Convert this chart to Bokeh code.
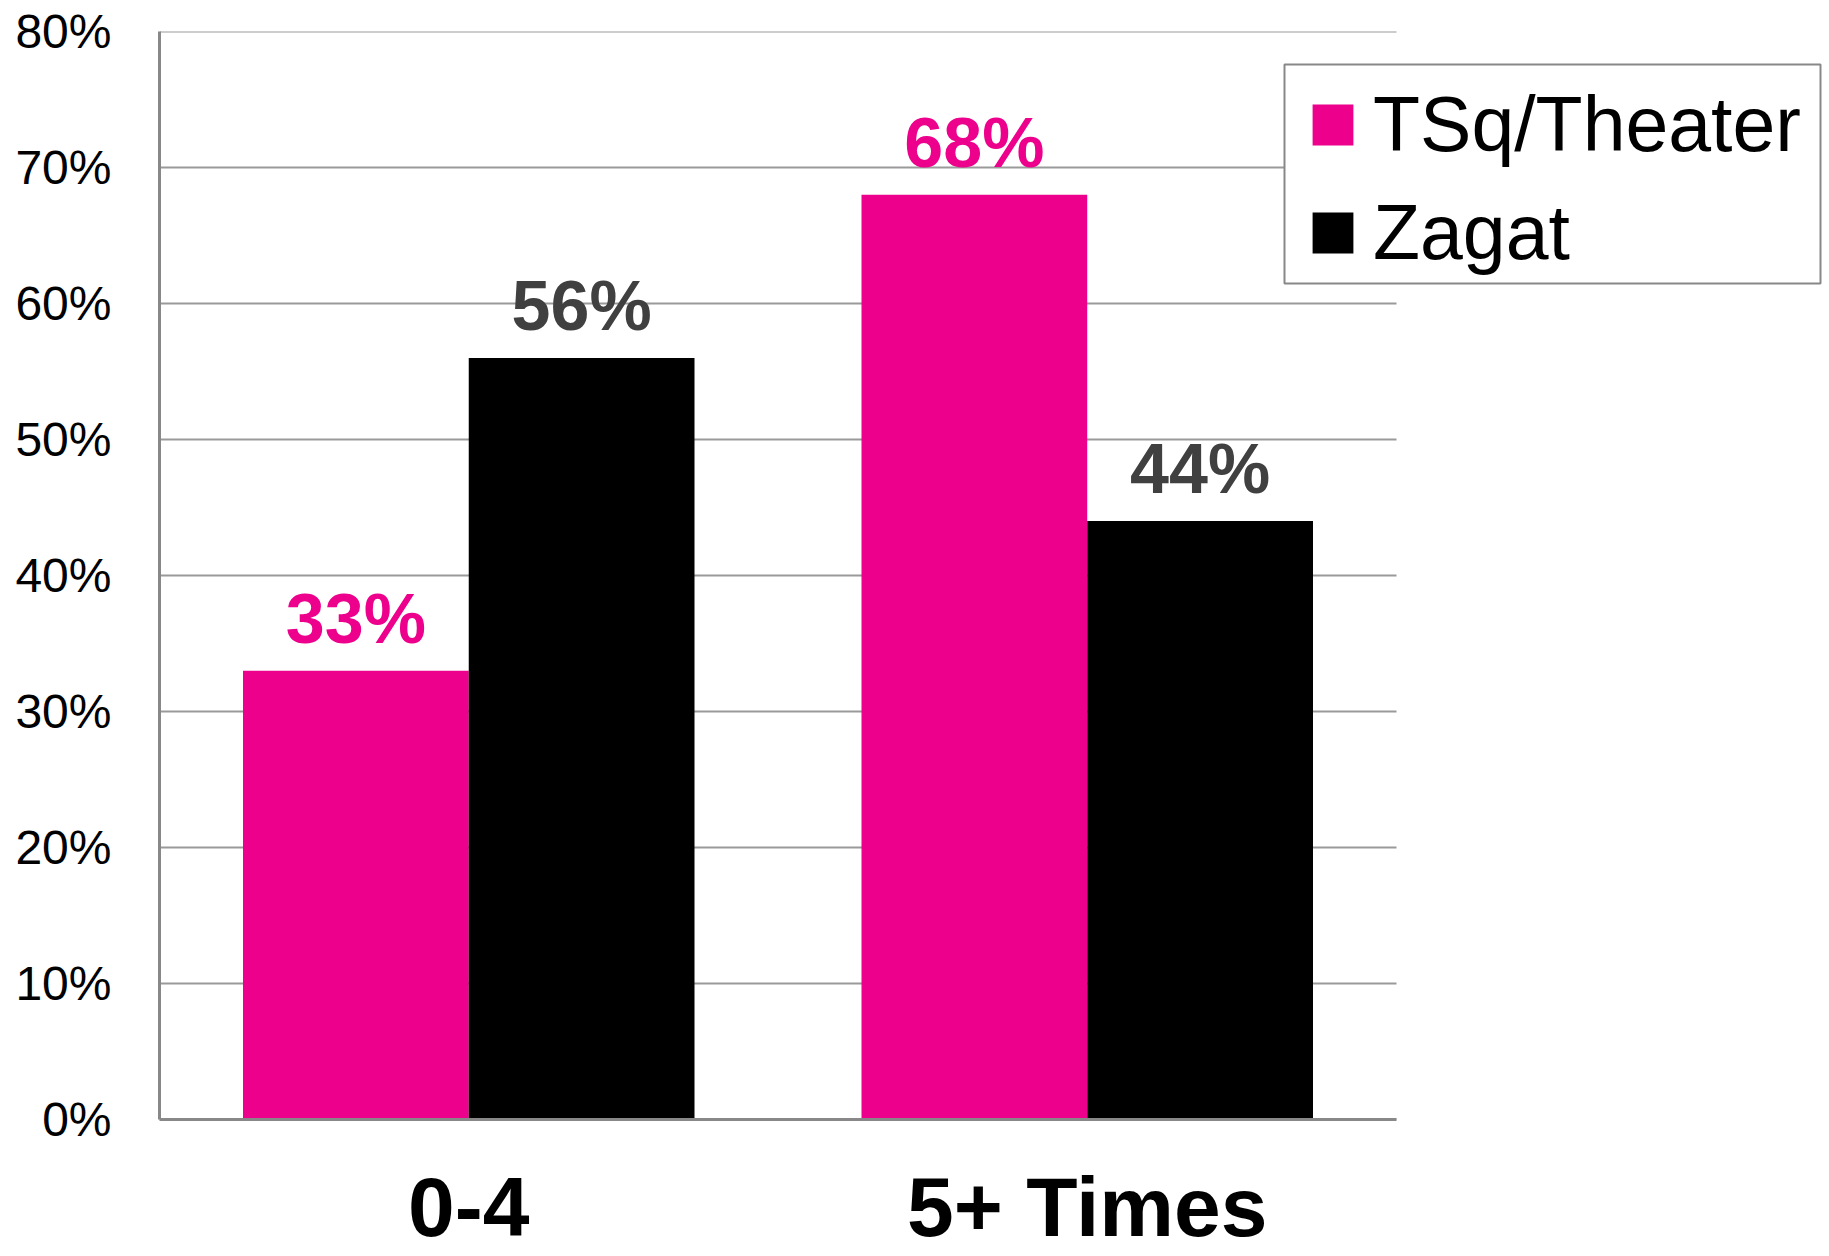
from bokeh.plotting import figure
from bokeh.models import (ColumnDataSource, NumeralTickFormatter, Legend, LegendItem,
                          FixedTicker, Range1d, BoxAnnotation)
from bokeh.core.properties import value
from bokeh.embed import file_html
from bokeh.resources import INLINE

categories = ["0-4", "5+ Times"]
series_names = ["TSq/Theater", "Zagat"]
tsq_values = [0.33, 0.68]
zagat_values = [0.56, 0.44]
tsq_labels = ["33%", "68%"]
zagat_labels = ["56%", "44%"]
y_ticks = [0, 0.1, 0.2, 0.3, 0.4, 0.5, 0.6, 0.7, 0.8]

PINK = "#EC008C"
BLACK = "#000000"
GREY_LABEL = "#404040"

n = len(categories)
centers = [i + 0.5 for i in range(n)]
BW = 0.365
OFF = 0.1825

src = ColumnDataSource(dict(
    xc=centers,
    x_tsq=[c - OFF for c in centers],
    x_zag=[c + OFF for c in centers],
    tsq=tsq_values, zagat=zagat_values,
    tsq_lab=tsq_labels, zagat_lab=zagat_labels))

W, H = 1826, 1256
LEFT, TOP, BOTTOM = 159, 31, 137
frame_w = W - LEFT
cat_px = 618.5
x_end = frame_w / cat_px

p = figure(x_range=Range1d(0, x_end), y_range=Range1d(0, 0.8), width=W, height=H,
           output_backend="svg", toolbar_location=None,
           min_border_left=LEFT, min_border_right=0, min_border_top=TOP,
           min_border_bottom=BOTTOM)
p.outline_line_color = None
p.background_fill_color = "white"
p.border_fill_color = "white"
p.xgrid.grid_line_color = None
p.ygrid.grid_line_color = None

# gridlines across the category area only
p.segment(x0=[0] * len(y_ticks), x1=[n] * len(y_ticks), y0=y_ticks, y1=y_ticks,
          line_color="#9a9a9a", line_width=2, level="underlay")

r1 = p.vbar(x="x_tsq", top="tsq", width=BW, source=src, fill_color=PINK, line_color=None)
r2 = p.vbar(x="x_zag", top="zagat", width=BW, source=src, fill_color=BLACK, line_color=None)

p.text(x="x_tsq", y="tsq", text="tsq_lab", source=src,
       text_color=PINK, text_font=value("Liberation Sans"), text_font_style="bold",
       text_font_size="70px", text_align="center", text_baseline="alphabetic", y_offset=-52)
p.text(x="x_zag", y="zagat", text="zagat_lab", source=src,
       text_color=GREY_LABEL, text_font=value("Liberation Sans"), text_font_style="bold",
       text_font_size="70px", text_align="center", text_baseline="alphabetic", y_offset=-52)

# y axis
p.yaxis.ticker = FixedTicker(ticks=y_ticks)
p.yaxis.formatter = NumeralTickFormatter(format="0%")
p.yaxis.major_label_text_font = "Liberation Sans"
p.yaxis.major_label_text_font_size = "48px"
p.yaxis.major_label_text_color = "black"
p.yaxis.major_label_standoff = 48
p.yaxis.major_tick_out = 0
p.yaxis.major_tick_in = 0
p.yaxis.minor_tick_out = 0
p.yaxis.minor_tick_in = 0
p.yaxis.axis_line_color = "#888888"
p.yaxis.axis_line_width = 3

# x axis (category labels)
p.xaxis.ticker = FixedTicker(ticks=centers)
p.xaxis.major_label_overrides = {c: lab for c, lab in zip(centers, categories)}
p.xaxis.bounds = (0, n)
p.xaxis.major_label_text_font = "Liberation Sans"
p.xaxis.major_label_text_font_style = "bold"
p.xaxis.major_label_text_font_size = "84px"
p.xaxis.major_label_text_color = "black"
p.xaxis.major_label_standoff = 40
p.xaxis.major_tick_out = 0
p.xaxis.major_tick_in = 0
p.xaxis.minor_tick_out = 0
p.xaxis.minor_tick_in = 0
p.xaxis.axis_line_color = "#888888"
p.xaxis.axis_line_width = 3

# legend frame
box = BoxAnnotation(left=1284, right=1820, top=64, bottom=283,
                    left_units="canvas", right_units="canvas",
                    top_units="canvas", bottom_units="canvas",
                    fill_color="white", fill_alpha=1.0,
                    line_color="#888888", line_width=2, line_alpha=1.0)
p.add_layout(box)

legend = Legend(items=[LegendItem(label=series_names[0], renderers=[r1]),
                       LegendItem(label=series_names[1], renderers=[r2])],
                location=(1307 - LEFT, (H - BOTTOM) - 277), margin=0, padding=0, spacing=19,
                glyph_width=51, glyph_height=51, label_standoff=15,
                label_text_font="Liberation Sans", label_text_font_size="77px",
                label_text_color="black",
                border_line_color=None,
                background_fill_alpha=0.0)
p.add_layout(legend, "center")

open("out.html", "w").write(file_html(p, INLINE))
